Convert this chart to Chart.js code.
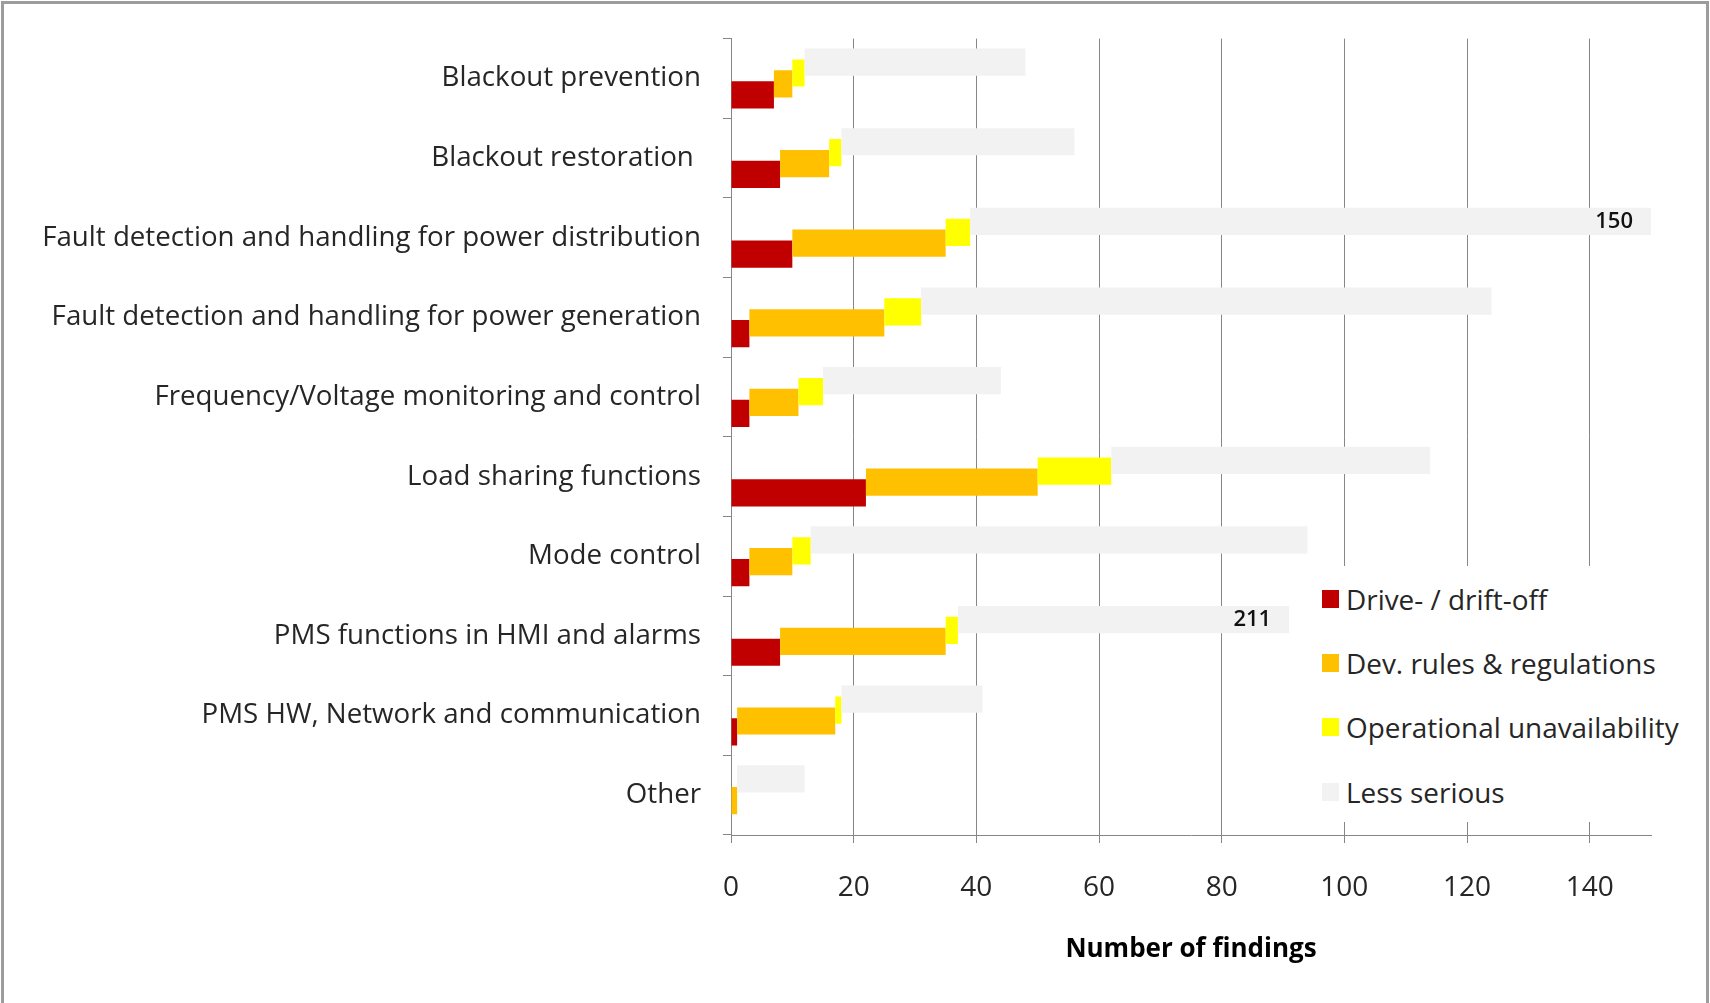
<!DOCTYPE html>
<html>
<head>
<meta charset="utf-8">
<script src="https://cdn.jsdelivr.net/npm/chart.js@4/dist/chart.umd.min.js"></script>
<style>
  html, body { margin: 0; padding: 0; background: #fff; width: 1710px; height: 1003px; overflow: hidden; }
  #wrap { position: relative; width: 1710px; height: 1003px; }
  #frame { position: absolute; left: 1px; top: 1px; width: 1708px; height: 1200px; box-sizing: border-box;
           border: 3px solid #9c9c9c; border-bottom: none; pointer-events: none; }
  canvas { position: absolute; left: 0; top: 0; }
  #legend { position: absolute; left: 1312px; top: 566px; width: 384px; height: 256px; background: #fff; }
  .item { position: absolute; left: 10px; height: 36px; display: flex; align-items: center;
          font-family: "Open Sans", sans-serif; font-size: 27.9px; color: #262626; white-space: nowrap; }
  .sw { width: 17px; height: 18px; margin-right: 7px; flex: none; }
</style>
</head>
<body>
<div id="wrap">
  <canvas id="c" width="1710" height="1003"></canvas>
  <div id="legend"></div>
  <div id="frame"></div>
</div>
<script>
// ---- data ----
const categories = [
  "Blackout prevention",
  "Blackout restoration ",
  "Fault detection and handling for power distribution",
  "Fault detection and handling for power generation",
  "Frequency/Voltage monitoring and control",
  "Load sharing functions",
  "Mode control",
  "PMS functions in HMI and alarms",
  "PMS HW, Network and communication",
  "Other"
];
const driveOff    = [7, 8, 10, 3, 3, 22, 3, 8, 1, 0];
const devRules    = [3, 8, 25, 22, 8, 28, 7, 27, 16, 1];
const operational = [2, 2, 4, 6, 4, 12, 3, 2, 1, 0];
const lessSerious = [36, 38, 111, 93, 29, 52, 81, 54, 23, 11];
const lessLabels  = ["", "", "150", "", "", "", "", "211", "", ""];
const seriesNames = ["Drive- / drift-off", "Dev. rules & regulations", "Operational unavailability", "Less serious"];
const seriesColors = ["#C00000", "#FFC000", "#FFFF00", "#F2F2F2"];
const xTicks = [0, 20, 40, 60, 80, 100, 120, 140];
const xMax = 150;

// ---- build floating stacked segments ----
const series = [driveOff, devRules, operational, lessSerious];
const floats = series.map(() => []);
categories.forEach((_, i) => {
  let acc = 0;
  series.forEach((s, k) => { floats[k].push([acc, acc + s[i]]); acc += s[i]; });
});

const FONT = "'Open Sans', sans-serif";
const TXT = "#262626";
const GRID = "#868686";

const labelPlugin = {
  id: 'endLabels',
  afterDatasetsDraw(chart) {
    const meta = chart.getDatasetMeta(0); // Less serious
    const ctx = chart.ctx;
    ctx.save();
    ctx.font = "600 22px " + FONT;
    ctx.fillStyle = "#111";
    ctx.textAlign = "right";
    ctx.textBaseline = "middle";
    meta.data.forEach((el, i) => {
      if (!lessLabels[i]) return;
      const end = Math.max(el.x, el.base);
      ctx.fillText(lessLabels[i], end - 18, el.y);
    });
    ctx.restore();
  }
};

// datasets ordered top-to-bottom within a category: Less serious on top, Drive-off at bottom
const order = [3, 2, 1, 0];
const datasets = order.map(k => ({
  label: seriesNames[k],
  data: floats[k],
  backgroundColor: seriesColors[k],
  borderWidth: 0,
  categoryPercentage: 0.547,
  barPercentage: 2.5
}));

new Chart(document.getElementById('c'), {
  type: 'bar',
  data: { labels: categories, datasets },
  options: {
    indexAxis: 'y',
    responsive: false,
    animation: false,
    devicePixelRatio: 1,
    layout: { padding: { top: 38, right: 59, left: 0, bottom: 0 } },
    plugins: { legend: { display: false }, tooltip: { enabled: false } },
    scales: {
      x: {
        min: 0, max: xMax,
        afterBuildTicks: s => { s.ticks = xTicks.map(v => ({ value: v })); },
        ticks: { stepSize: 20, includeBounds: false, padding: 28, maxRotation: 0,
                 font: { family: FONT, size: 28 }, color: TXT },
        grid: { color: GRID, lineWidth: 1, tickLength: 8 },
        border: { color: GRID, width: 1 },
        title: { display: true, text: "Number of findings", color: "#000",
                 font: { family: FONT, size: 26, weight: 'bold' }, padding: { top: 0, bottom: 38 } },
        afterFit: s => { s.height = 168; }
      },
      y: {
        grid: { offset: true, drawOnChartArea: false, tickLength: 8, color: GRID },
        border: { color: GRID, width: 1 },
        ticks: { padding: 22, autoSkip: false, font: { family: FONT, size: 27.7 }, color: TXT },
        afterFit: s => { s.width = 731; }
      }
    }
  },
  plugins: [labelPlugin]
});

// ---- legend ----
const lg = document.getElementById('legend');
const itemTops = [15, 79, 143, 208];
seriesNames.forEach((n, k) => {
  const d = document.createElement('div');
  d.className = 'item';
  d.style.top = itemTops[k] + 'px';
  const sw = document.createElement('span');
  sw.className = 'sw';
  sw.style.background = seriesColors[k];
  const t = document.createElement('span');
  t.textContent = n;
  d.appendChild(sw); d.appendChild(t);
  lg.appendChild(d);
});
</script>
</body>
</html>
